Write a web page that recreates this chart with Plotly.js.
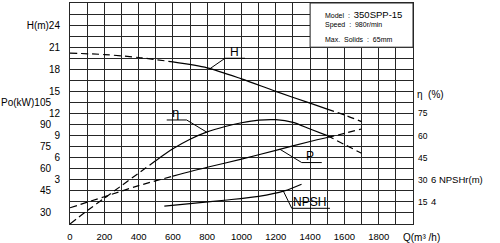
<!DOCTYPE html>
<html>
<head>
<meta charset="utf-8">
<script src="https://cdn.plot.ly/plotly-3.0.1.min.js"></script>
<style>html,body{margin:0;padding:0;background:#fff;}#chart{width:500px;height:243px;}</style>
</head>
<body>
<div id="chart"></div>
<script>
// ---- data ----
const flowTicks = [0, 200, 400, 600, 800, 1000, 1200, 1400, 1600, 1800];
const headTicks = [3, 6, 9, 12, 15, 18, 21, 24];
const powerTicks = [30, 45, 60, 75, 90, 105];
const effTicks = [15, 30, 45, 60, 75];
const npshTicks = [4, 6];

const qHead = [0, 200, 400, 600, 800, 1000, 1200, 1400, 1500, 1600, 1700];
const head  = [20.2, 20.0, 19.6, 19.0, 18.2, 16.7, 15.0, 13.4, 12.6, 11.8, 10.9];

const qEff = [0, 100, 200, 300, 400, 500, 600, 700, 800, 900, 1000, 1100, 1200, 1300, 1400, 1500, 1600, 1700];
const eff  = [0, 9, 17.5, 26, 34.5, 43, 51, 57.5, 62.5, 66, 68.7, 70.5, 70.8, 69, 64.5, 60, 54, 48];

const qPower = [0, 200, 400, 600, 800, 1000, 1200, 1400, 1500, 1600, 1700];
const power  = [33.5, 41, 48.5, 55, 61, 66.5, 72.5, 78.5, 81.2, 84, 87];

const qNpsh = [550, 700, 900, 1100, 1250, 1350];
const npsh  = [3.62, 3.85, 4.15, 4.5, 5.0, 5.6];

// ---- helpers ----
const INK = '#000000';
const GRID = '#262626';
function interp(xs, ys, x) {
  for (let i = 0; i < xs.length - 1; i++) {
    if (x >= xs[i] && x <= xs[i + 1]) {
      const t = (x - xs[i]) / (xs[i + 1] - xs[i]);
      return ys[i] + t * (ys[i + 1] - ys[i]);
    }
  }
  return ys[ys.length - 1];
}
function part(xs, ys, lo, hi) {
  const px = [], py = [];
  xs.forEach((x, i) => { if (x >= lo && x <= hi) { px.push(x); py.push(ys[i]); } });
  return { x: px, y: py };
}
function curve(xs, ys, yaxis, solidLo, solidHi, name) {
  const out = [];
  const segs = [
    [xs[0], solidLo, '7px,4px'],
    [solidLo, solidHi, 'solid'],
    [solidHi, xs[xs.length - 1], '7px,4px']
  ];
  segs.forEach(s => {
    if (s[1] <= s[0]) return;
    const p = part(xs, ys, s[0], s[1]);
    out.push({
      type: 'scatter', mode: 'lines', x: p.x, y: p.y, yaxis: yaxis, name: name,
      line: { color: INK, width: 1.2, dash: s[2], shape: 'spline', smoothing: 0.8 },
      hoverinfo: 'skip', showlegend: false
    });
  });
  return out;
}

// grid ticks every 100 m3/h and every 1.5 m; labels only where the reference has them
const xGrid = [], xText = [];
for (let q = 0; q <= 2000; q += 100) {
  xGrid.push(q);
  xText.push(flowTicks.includes(q) ? String(q) : '');
}
const yGrid = [], yText = [];
for (let k = 0; k <= 20; k++) {
  const h = -3 + 1.5 * k;
  yGrid.push(h);
  yText.push(headTicks.includes(h) ? (h === 24 ? 'H(m)24' : String(h)) : '');
}

const traces = [].concat(
  curve(qHead, head, 'y', 600, 1500, 'H'),
  curve(qEff, eff, 'y3', 500, 1500, 'η'),
  curve(qPower, power, 'y2', 600, 1500, 'P'),
  curve(qNpsh, npsh, 'y4', 550, 1350, 'NPSH')
);

const font = { family: 'Liberation Sans, Arial, sans-serif', color: INK };
const labelFont = { family: 'Liberation Sans, Arial, sans-serif', color: INK };

function leader(xs, ys, q0, yref, pts) {
  let d = 'M ' + q0 + ',' + interp(xs, ys, q0);
  pts.forEach(p => { d += ' L ' + p[0] + ',' + p[1]; });
  return { type: 'path', xref: 'x', yref: yref, path: d, line: { color: INK, width: 1 }, layer: 'above' };
}

const layout = {
  width: 500, height: 243,
  margin: { l: 70, r: 87, t: 3, b: 19, pad: 0 },
  paper_bgcolor: '#fff', plot_bgcolor: '#fff',
  showlegend: false,
  font: Object.assign({ size: 10 }, font),
  xaxis: {
    range: [0, 2000], tickmode: 'array', tickvals: xGrid, ticktext: xText,
    showgrid: true, gridcolor: GRID, gridwidth: 1, zeroline: false,
    showline: true, mirror: true, linecolor: GRID, linewidth: 1,
    ticks: '', tickfont: Object.assign({ size: 9.5 }, font), ticklabelstandoff: 4
  },
  yaxis: {
    range: [-3, 27], tickmode: 'array', tickvals: yGrid, ticktext: yText,
    showgrid: true, gridcolor: GRID, gridwidth: 1, zeroline: false,
    showline: true, mirror: true, linecolor: GRID, linewidth: 1,
    ticks: '', tickfont: Object.assign({ size: 10 }, font), ticklabelstandoff: 7
  },
  yaxis2: {
    overlaying: 'y', side: 'left', anchor: 'free', position: 0,
    range: [22.5, 172.5], tickmode: 'array', tickvals: powerTicks,
    ticktext: powerTicks.map(v => v === 105 ? 'Po(kW)105' : String(v)),
    showgrid: false, zeroline: false, showline: false, ticks: '',
    tickfont: Object.assign({ size: 10 }, font), ticklabelstandoff: 19
  },
  yaxis3: {
    overlaying: 'y', side: 'right', anchor: 'x',
    range: [0, 150], tickmode: 'array', tickvals: effTicks, ticktext: effTicks.map(String),
    showgrid: false, zeroline: false, showline: false, ticks: '',
    tickfont: Object.assign({ size: 8.5 }, font), ticklabelstandoff: 4
  },
  yaxis4: {
    overlaying: 'y', side: 'right', anchor: 'free', position: 1,
    range: [2, 22], tickmode: 'array', tickvals: npshTicks,
    ticktext: npshTicks.map(v => v === 6 ? '6 NPSHr(m)' : String(v)),
    showgrid: false, zeroline: false, showline: false, ticks: '',
    tickfont: Object.assign({ size: 9.5 }, font), ticklabelstandoff: 17
  },
  shapes: [
    { type: 'rect', xref: 'x', yref: 'y', x0: 1400, x1: 2000, y0: 21, y1: 27,
      fillcolor: '#fff', line: { color: GRID, width: 1 }, layer: 'above' },
    leader(qHead, head, 816, 'y', [[904, 19.5], [1020, 19.5]]),
    leader(qEff, eff, 797, 'y3', [[680, 70.6], [564, 70.6]]),
    leader(qPower, power, 1224, 'y2', [[1351, 64.2], [1468, 64.2]]),
    leader(qNpsh, npsh, 1244, 'y4', [[1293, 3.42], [1516, 3.42]])
  ],
  annotations: [
    { xref: 'x', yref: 'y', x: 962, y: 20.3, text: 'H', showarrow: false,
      font: Object.assign({ size: 12 }, labelFont) },
    { xref: 'x', yref: 'y3', x: 618, y: 76, text: 'η', showarrow: false,
      font: Object.assign({ size: 13 }, labelFont) },
    { xref: 'x', yref: 'y2', x: 1400, y: 68.5, text: 'P', showarrow: false,
      font: Object.assign({ size: 12 }, labelFont) },
    { xref: 'x', yref: 'y4', x: 1399, y: 4.0, text: 'NPSH', showarrow: false,
      font: Object.assign({ size: 12 }, labelFont) },
    { xref: 'paper', yref: 'y3', x: 1, xanchor: 'left', xshift: 2, y: 87.6, text: 'η&nbsp;&nbsp;(%)',
      showarrow: false, font: Object.assign({ size: 10 }, font) },
    { xref: 'paper', yref: 'paper', x: 1, xanchor: 'left', xshift: -12, y: 0, yanchor: 'top', yshift: -6,
      text: 'Q(m³&nbsp;/h)', showarrow: false, font: Object.assign({ size: 10 }, font) },
    { xref: 'x', yref: 'y', x: 1475, y: 25.4, xanchor: 'left', showarrow: false,
      text: 'Model&nbsp;&nbsp;:&nbsp;&nbsp;<span style="font-size:9.5px">350SPP-15</span>',
      font: Object.assign({ size: 7 }, font) },
    { xref: 'x', yref: 'y', x: 1475, y: 24.0, xanchor: 'left', showarrow: false,
      text: 'Speed&nbsp;&nbsp;:&nbsp;&nbsp;980r/min', font: Object.assign({ size: 7 }, font) },
    { xref: 'x', yref: 'y', x: 1475, y: 22.1, xanchor: 'left', showarrow: false,
      text: 'Max.&nbsp;&nbsp;Solids&nbsp;&nbsp;:&nbsp;&nbsp;65mm', font: Object.assign({ size: 7 }, font) }
  ]
};

Plotly.newPlot('chart', traces, layout, { staticPlot: true, displayModeBar: false });
</script>
</body>
</html>
